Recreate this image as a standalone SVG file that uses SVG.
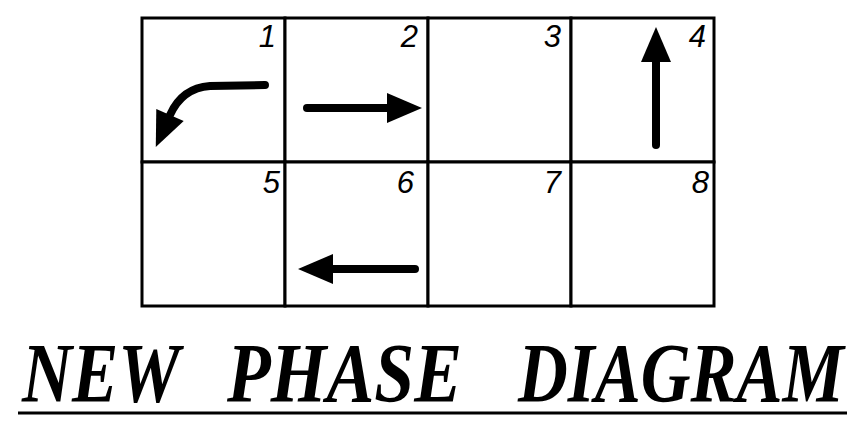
<svg xmlns="http://www.w3.org/2000/svg" width="860" height="426" viewBox="0 0 860 426">
<style>
.cell{fill:#fff;stroke:#000;stroke-width:3}
.num{font-family:"Liberation Sans",Arial,sans-serif;font-style:italic;font-size:31px;fill:#000;text-anchor:end}
.arr{fill:none;stroke:#000;stroke-width:8;stroke-linecap:round;marker-end:url(#head)}
.title{font-family:"Liberation Serif","Times New Roman",serif;font-style:italic;font-weight:bold;font-size:69px;fill:#000}
</style>
<defs>
<marker id="head" markerUnits="userSpaceOnUse" markerWidth="36" markerHeight="32" refX="0" refY="15" orient="auto" overflow="visible">
<path d="M0,0 L35,15 L0,30 Z" fill="#000"/>
</marker>
</defs>
<rect width="860" height="426" fill="#fff"/>
<g id="cell1"><rect class="cell" x="142" y="18" width="143" height="144"/><text class="num" x="276" y="47">1</text></g>
<g id="cell2"><rect class="cell" x="285" y="18" width="143" height="144"/><text class="num" x="418" y="47">2</text></g>
<g id="cell3"><rect class="cell" x="428" y="18" width="143" height="144"/><text class="num" x="561" y="47">3</text></g>
<g id="cell4"><rect class="cell" x="571" y="18" width="143" height="144"/><text class="num" x="706" y="47">4</text></g>
<g id="cell5"><rect class="cell" x="142" y="162" width="143" height="144"/><text class="num" x="280" y="193">5</text></g>
<g id="cell6"><rect class="cell" x="285" y="162" width="143" height="144"/><text class="num" x="414" y="193">6</text></g>
<g id="cell7"><rect class="cell" x="428" y="162" width="143" height="144"/><text class="num" x="561" y="193">7</text></g>
<g id="cell8"><rect class="cell" x="571" y="162" width="143" height="144"/><text class="num" x="709" y="193">8</text></g>
<g id="connectors">
<path class="arr" d="M265,85 L210,86 Q182,88 170,115"/>
<path class="arr" d="M307,108 L387,108"/>
<path class="arr" d="M656,145 L656,62"/>
<path class="arr" d="M415,269 L333,269"/>
</g>
<g id="title">
<g transform="translate(0,402) scale(1,1.24)">
<text class="title" x="22" y="0" textLength="158" lengthAdjust="spacingAndGlyphs">NEW</text>
<text class="title" x="227" y="0" textLength="235" lengthAdjust="spacingAndGlyphs">PHASE</text>
<text class="title" x="518" y="0" textLength="326" lengthAdjust="spacingAndGlyphs">DIAGRAM</text>
</g>
<line x1="18" y1="413" x2="847" y2="413" stroke="#000" stroke-width="3"/>
</g>
</svg>
